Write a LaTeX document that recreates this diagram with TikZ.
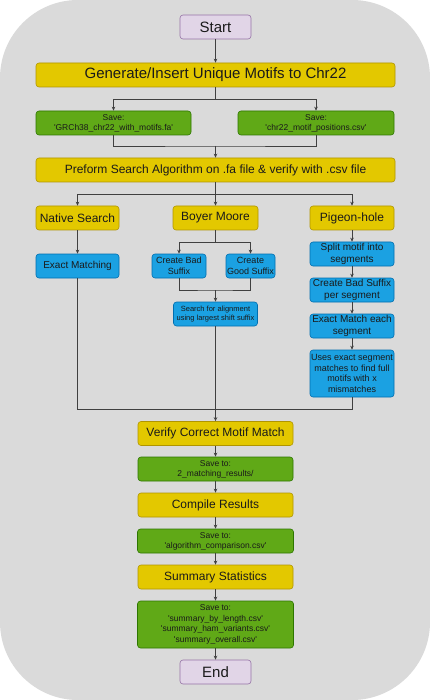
\documentclass[tikz,border=0pt]{standalone}
\usepackage{fontspec}
\setmainfont{Liberation Sans}
\usetikzlibrary{arrows.meta}
\definecolor{bggray}{HTML}{DADADA}
\definecolor{startfill}{HTML}{E1D5E7}
\definecolor{startline}{HTML}{9673A6}
\definecolor{stagefill}{HTML}{E3C800}
\definecolor{stageline}{HTML}{B09500}
\definecolor{savefill}{HTML}{60A917}
\definecolor{saveline}{HTML}{2D7600}
\definecolor{algfill}{HTML}{1BA1E2}
\definecolor{algline}{HTML}{006EAF}
\definecolor{linegray}{HTML}{404040}
\definecolor{darktext}{HTML}{1A1A1A}
\newcommand{\sq}{\textquotesingle}
\tikzset{
  box/.style={draw, rounded corners=3pt, align=center, inner sep=1pt, line width=0.6pt, text=darktext},
  startend/.style={box, fill=startfill, draw=startline, minimum width=71pt, minimum height=24pt, font={\fontsize{15}{18}\selectfont}},
  stage/.style={box, fill=stagefill, draw=stageline, minimum height=24pt, font={\fontsize{12}{14}\selectfont}},
  savebox/.style={box, fill=savefill, draw=saveline, minimum height=24pt, font={\fontsize{8.5}{10}\selectfont}},
  algbox/.style={box, fill=algfill, draw=algline, minimum height=24pt, font={\fontsize{10}{12}\selectfont}},
  flow/.style={draw=linegray, line width=0.7pt, -{Stealth[length=4pt,width=3.5pt]}},
  link/.style={draw=linegray, line width=0.7pt},
}
\begin{document}
\begin{tikzpicture}[x=1pt,y=-1pt]
    % background
    \useasboundingbox (0,0) rectangle (430,700);
    \fill[white] (0,0) rectangle (430,700);
    \fill[bggray, rounded corners=78pt] (0,0) rectangle (430,700);
    % preparation
    \node[startend] (start) at (215.5,27) {Start};
    \node[stage, minimum width=359pt, font={\fontsize{15}{18}\selectfont}] (gen) at (215.5,75) {Generate/Insert Unique Motifs to Chr22};
    \node[savebox, minimum width=155pt] (savefa) at (113.5,123) {Save:\\\sq GRCh38\_chr22\_with\_motifs.fa\sq};
    \node[savebox, minimum width=156pt] (savecsv) at (316,123) {Save:\\\sq chr22\_motif\_positions.csv\sq};
    \node[stage, minimum width=359pt] (search) at (215.5,170) {Preform Search Algorithm on .fa file \& verify with .csv file};
    % algorithms
    \node[stage, minimum width=83pt] (naive) at (77.5,218) {Native Search};
    \node[stage, minimum width=85pt] (boyer) at (215.5,218) {Boyer Moore};
    \node[stage, minimum width=84pt] (pigeon) at (352,218) {Pigeon-hole};
    \node[algbox, minimum width=83pt] (exact) at (77.5,266) {Exact Matching};
    \node[algbox, minimum width=54pt, font={\fontsize{9}{10.5}\selectfont}] (badsfx) at (179,266) {Create Bad\\Suffix};
    \node[algbox, minimum width=49pt, font={\fontsize{9}{10.5}\selectfont}] (goodsfx) at (250.5,266) {Create\\Good Suffix};
    \node[algbox, minimum width=84pt, font={\fontsize{7.5}{9.5}\selectfont}] (shift) at (215.5,314) {Search for alignment\\using largest shift suffix};
    \node[algbox, minimum width=84pt] (split) at (352,254) {Split motif into\\segments};
    \node[algbox, minimum width=84pt] (segsfx) at (352,290) {Create Bad Suffix\\per segment};
    \node[algbox, minimum width=84pt] (segmatch) at (352,326) {Exact Match each\\segment};
    \node[algbox, minimum width=84pt, minimum height=47pt, font={\fontsize{9}{10.7}\selectfont}] (combine) at (352,373.5) {Uses exact segment\\matches to find full\\motifs with x\\mismatches};
    % results
    \node[stage, minimum width=155pt] (verify) at (215.5,433.5) {Verify Correct Motif Match};
    \node[savebox, minimum width=155pt] (savematch) at (215.5,469) {Save to:\\2\_matching\_results/};
    \node[stage, minimum width=155pt] (compile) at (215.5,505) {Compile Results};
    \node[savebox, minimum width=156pt] (savecmp) at (215.5,541) {Save to:\\\sq algorithm\_comparison.csv\sq};
    \node[stage, minimum width=155pt] (summary) at (215.5,577) {Summary Statistics};
    \node[savebox, minimum width=156pt, minimum height=47pt, font={\fontsize{8.5}{10.7}\selectfont}] (savesum) at (215.5,624.5) {Save to:\\\sq summary\_by\_length.csv\sq\\\sq summary\_ham\_variants.csv\sq\\\sq summary\_overall.csv\sq};
    \node[startend] (end) at (215.5,672) {End};
    % junctions
    \coordinate (genfork) at (215.5,99);
    \coordinate (savejoin) at (215.5,146);
    \coordinate (algfork) at (215.5,194);
    \coordinate (bmfork) at (215.5,242);
    \coordinate (bmjoin) at (215.5,290);
    \coordinate (merge) at (215.5,409);
    % connectors
    \draw[flow] (start) -- (gen);
    \draw[link] (gen) -- (genfork);
    \draw[flow] (genfork) -| (savefa.north);
    \draw[flow] (genfork) -| (savecsv.north);
    \draw[link] (savefa.south) |- (savejoin) -| (savecsv.south);
    \draw[flow] (savejoin) -- (search);
    \draw[flow] (search) -- (boyer);
    \draw[flow] (algfork) -| (naive.north);
    \draw[flow] (algfork) -| (pigeon.north);
    \draw[flow] (naive) -- (exact);
    \draw[link] (boyer) -- (bmfork);
    \draw[flow] (bmfork) -| (badsfx.north);
    \draw[flow] (bmfork) -| (goodsfx.north);
    \draw[link] (badsfx.south) |- (bmjoin) -| (goodsfx.south);
    \draw[flow] (bmjoin) -- (shift);
    \draw[flow] (pigeon) -- (split);
    \draw[flow] (split) -- (segsfx);
    \draw[flow] (segsfx) -- (segmatch);
    \draw[flow] (segmatch) -- (combine);
    \draw[link] (exact.south) |- (merge);
    \draw[link] (combine.south) |- (merge);
    \draw[flow] (shift) -- (verify);
    \draw[flow] (verify) -- (savematch);
    \draw[flow] (savematch) -- (compile);
    \draw[flow] (compile) -- (savecmp);
    \draw[flow] (savecmp) -- (summary);
    \draw[flow] (summary) -- (savesum);
    \draw[flow] (savesum) -- (end);
\end{tikzpicture}
\end{document}
